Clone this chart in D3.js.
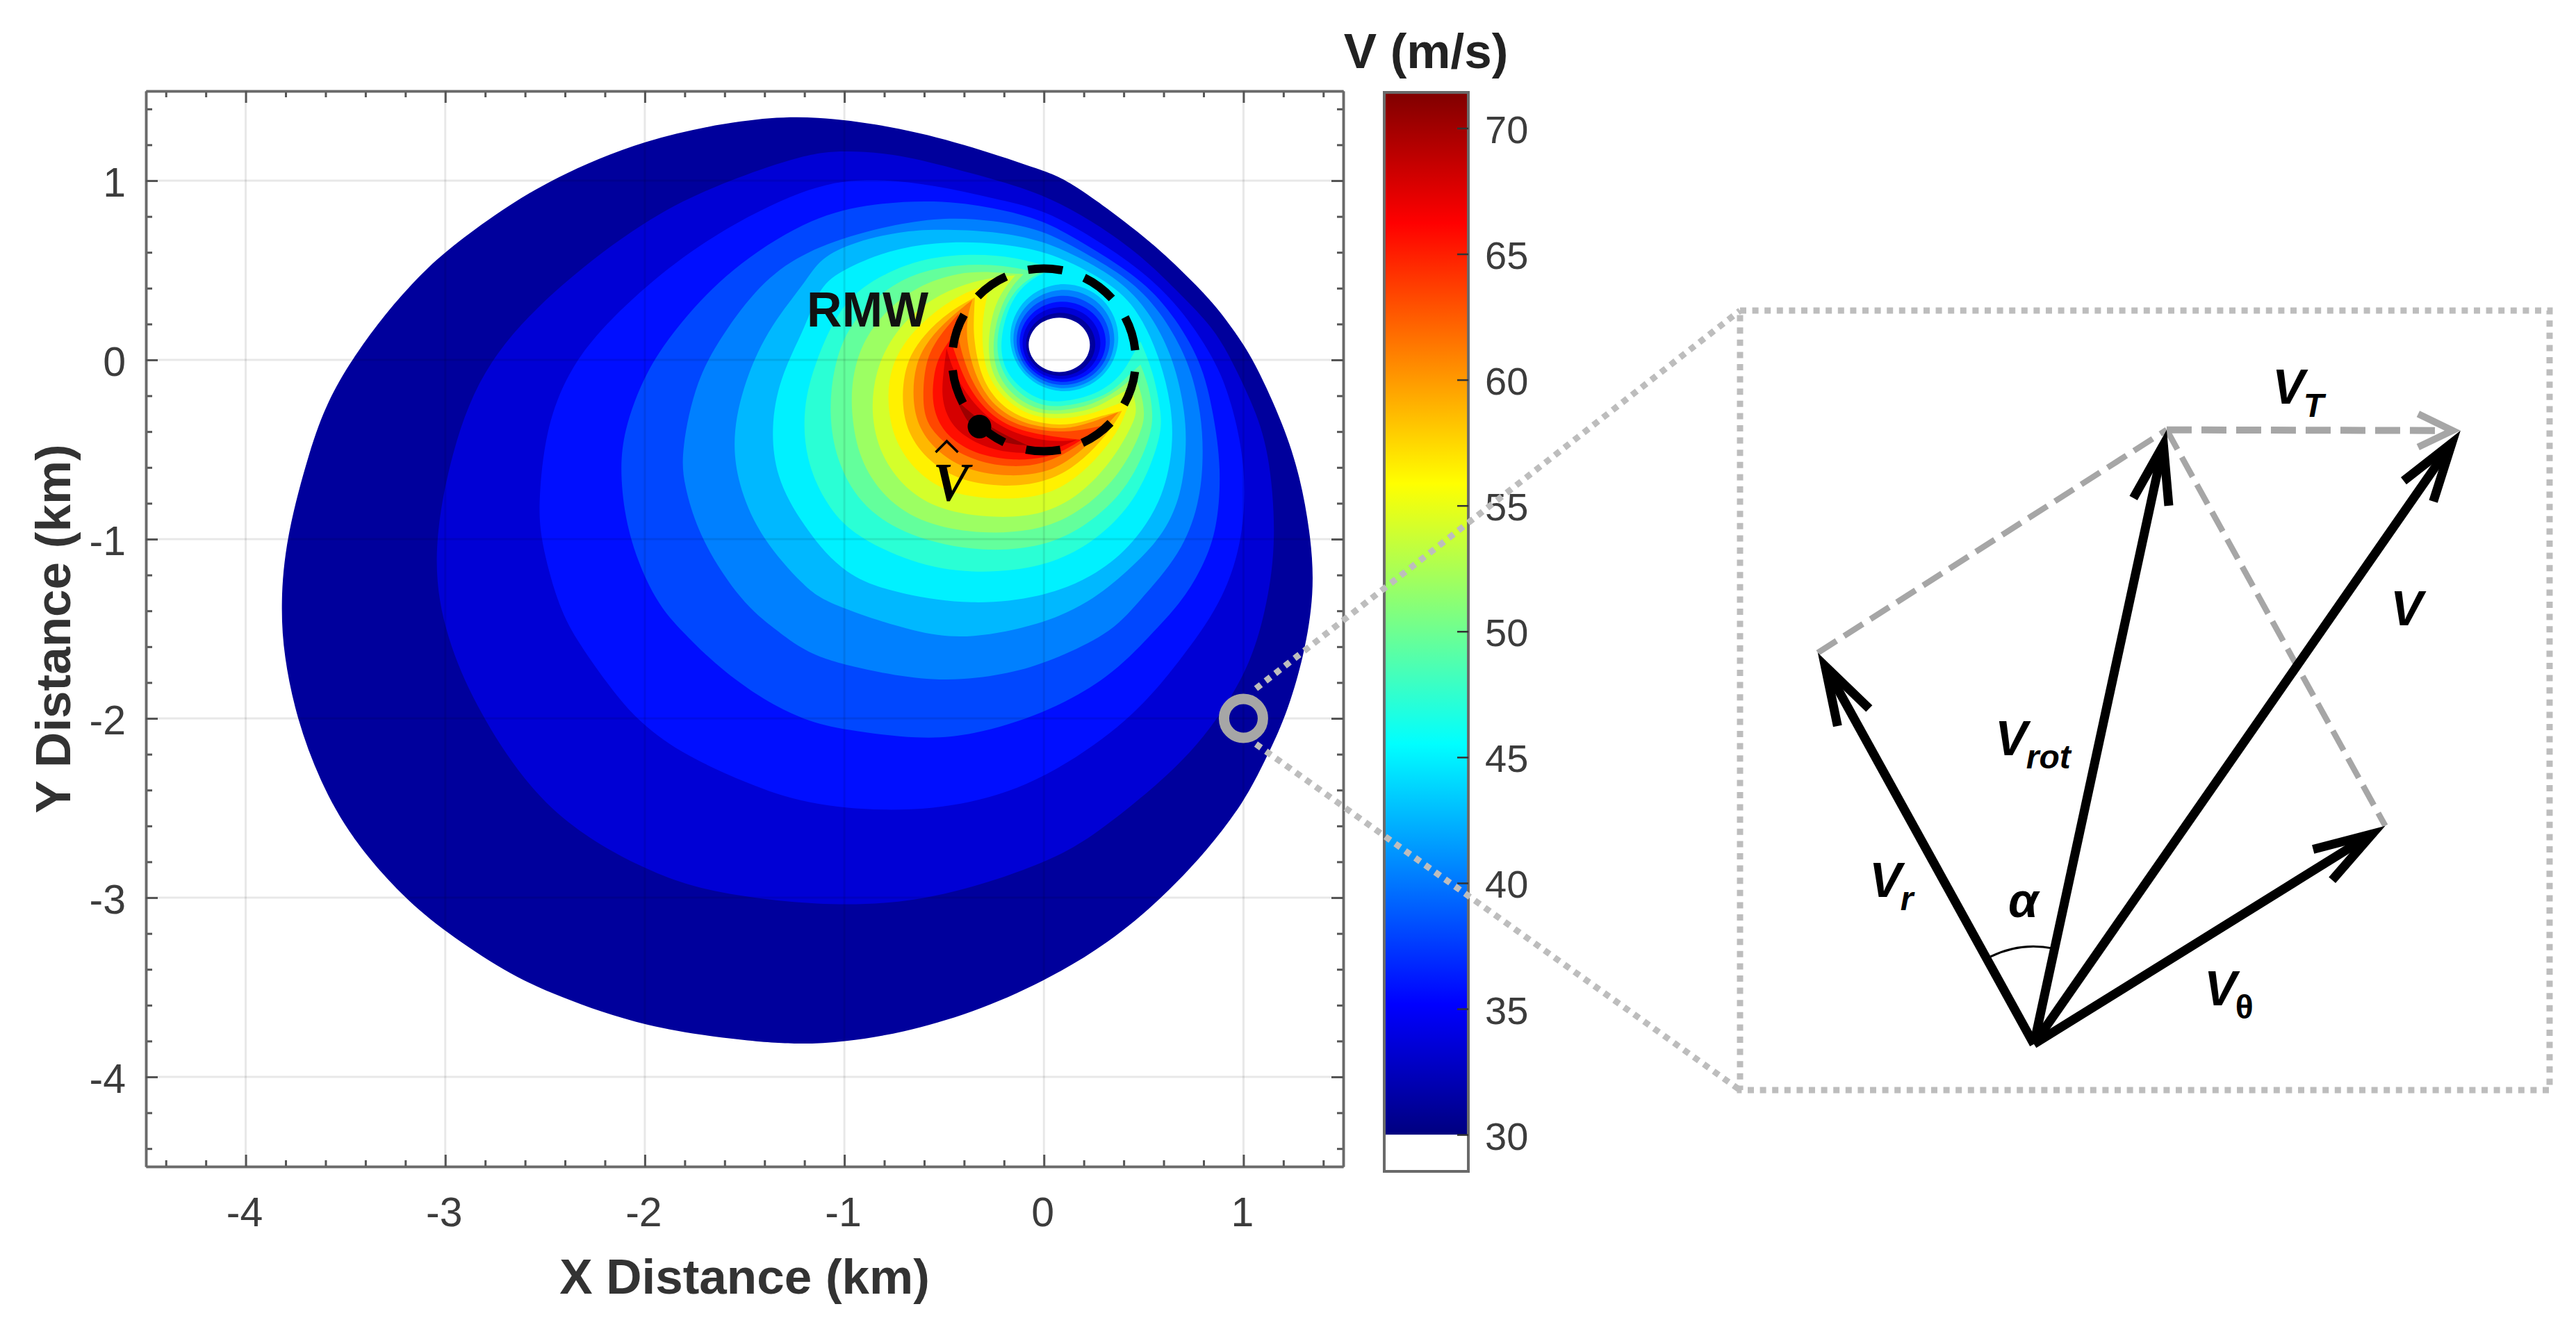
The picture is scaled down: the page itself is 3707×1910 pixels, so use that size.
<!DOCTYPE html>
<html>
<head>
<meta charset="utf-8">
<script src="https://d3js.org/d3.v7.min.js"></script>
<style>
  body { margin: 0; background: #fff; }
  text { font-family: "Liberation Sans", Arial, sans-serif; }
</style>
</head>
<body>
<svg id="chart" width="3707" height="1910"></svg>
<script>
// Tick values
var xTicks = [-4, -3, -2, -1, 0, 1];
var yTicks = [-4, -3, -2, -1, 0, 1];
var colorTicks = [30, 35, 40, 45, 50, 55, 60, 65, 70];

// Filled contour levels in m/s, the last one is the top of the colour bar
var levels = [30, 32.3, 34.6, 36.9, 39.2, 41.5, 43.8, 46.1, 48.4, 50.7, 53, 55.3, 57.6, 59.9, 62.2, 64.5, 66.8, 69.1, 71.4];

// Outer edge of the contours that go all the way round the eye, [x km, y km]
var outer1 = [[-1.15,1.365],[-.71,1.295],[-.36,1.19],[0,1.055],[.13,1],[.5,.695],[.68,.51],[.85,.32],[.975,.13],[1.06,-.02],[1.2,-.36],[1.285,-.65],[1.34,-1],[1.355,-1.3],[1.305,-1.65],[1.21,-2],[1.11,-2.23],[1.005,-2.465],[.82,-2.735],[.59,-3.005],[.33,-3.25],[0,-3.47],[-.36,-3.645],[-.71,-3.755],[-1,-3.805],[-1.23,-3.82],[-1.49,-3.8],[-2,-3.725],[-2.44,-3.55],[-2.7,-3.415],[-3,-3.19],[-3.205,-3.005],[-3.465,-2.68],[-3.63,-2.35],[-3.745,-2],[-3.81,-1.65],[-3.825,-1.36],[-3.8,-1],[-3.68,-.5],[-3.59,-.23],[-3.47,0],[-3.3,.26],[-3.125,.475],[-3,.605],[-2.76,.805],[-2.48,1.005],[-2,1.235],[-1.49,1.345]];
var outer2 = [[-1,1.17],[-.71,1.147],[-.36,1.04],[0,.93],[.295,.74],[.52,.55],[.68,.37],[.85,.18],[.94,0],[1.04,-.23],[1.13,-.5],[1.166,-1],[1.12,-1.36],[1.04,-1.69],[.875,-2],[.68,-2.27],[.24,-2.67],[0,-2.81],[-.5,-3],[-1,-3.06],[-1.66,-2.98],[-2,-2.85],[-2.49,-2.54],[-2.82,-2],[-3,-1.55],[-3.07,-1.1],[-2.97,-.5],[-2.8,0],[-2.42,.43],[-2,.78],[-1.66,.97],[-1.2,1.15]];
var outer3 = [[-.9,1.02],[-.54,.975],[-.25,.9],[0,.84],[.25,.68],[.48,.51],[.68,.3],[.86,0],[.94,-.23],[1.014,-.6],[1,-1],[.893,-1.358],[.676,-1.687],[.433,-2.015],[0,-2.344],[-.364,-2.48],[-.76,-2.524],[-1.196,-2.48],[-1.486,-2.364],[-1.832,-2.19],[-2.048,-2],[-2.178,-1.822],[-2.351,-1.551],[-2.438,-1.358],[-2.524,-1],[-2.533,-.787],[-2.498,-.4],[-2.403,-.11],[-2.265,.122],[-2,.412],[-1.659,.702],[-1.196,.963]];
var outer4 = [[-.9,.87],[-.54,.895],[-.25,.85],[0,.78],[.2,.65],[.45,.48],[.62,.3],[.79,0],[.85,-.3],[.89,-.6],[.87,-.95],[.79,-1.17],[.685,-1.358],[.537,-1.532],[.33,-1.774],[0,-1.977],[-.364,-2.097],[-.624,-2.118],[-1,-2.064],[-1.196,-2.015],[-1.434,-1.88],[-1.659,-1.687],[-1.806,-1.522],[-1.945,-1.358],[-2.083,-1],[-2.126,-.652],[-2.109,-.4],[-2,-.07],[-1.832,.2],[-1.573,.509],[-1.196,.78]];
var outer5 = [[-.9,.72],[-.54,.8],[-.25,.78],[0,.725],[.2,.6],[.425,.455],[.58,.28],[.727,0],[.79,-.3],[.8,-.55],[.78,-.8],[.69,-1.08],[.468,-1.358],[.33,-1.532],[0,-1.696],[-.19,-1.754],[-.537,-1.807],[-1,-1.706],[-1.196,-1.63],[-1.35,-1.5],[-1.512,-1.358],[-1.725,-1],[-1.806,-.69],[-1.818,-.516],[-1.746,-.11],[-1.59,.18],[-1.4,.45],[-1.196,.605]];
var outer6 = [[-.95,.659],[-.718,.717],[-.544,.73],[-.25,.72],[0,.665],[.2,.56],[.4,.43],[.54,.25],[.653,0],[.71,-.3],[.714,-.5],[.69,-.75],[.6,-.98],[.42,-1.18],[.225,-1.358],[-.017,-1.478],[-.364,-1.557],[-.624,-1.532],[-1.09,-1.358],[-1.196,-1.27],[-1.417,-1],[-1.538,-.69],[-1.564,-.4],[-1.486,-.07],[-1.365,.2],[-1.196,.431],[-1.124,.568]];
var outer7 = [[-1.124,.413],[-1.008,.504],[-.776,.614],[-.544,.656],[-.311,.659],[-.079,.627],[.107,.565],[.38,.4],[.5,.22],[.583,0],[.64,-.25],[.65,-.497],[.59,-.8],[.43,-1.05],[.243,-1.213],[-.017,-1.329],[-.364,-1.368],[-.71,-1.31],[-1,-1.21],[-1.209,-.923],[-1.348,-.652],[-1.369,-.342],[-1.313,-.07],[-1.196,.18]];

// Inner edge of the same contours, round the eye. inner1 is the white eye itself
var inner1 = [[.077,.252],[.197,.203],[.247,.084],[.197,-.035],[.077,-.084],[-.043,-.035],[-.093,.084],[-.043,.203]];
var inner2 = [[.084,.282],[.22,.225],[.276,.087],[.22,-.051],[.084,-.108],[-.052,-.051],[-.108,.087],[-.052,.225]];
var inner3 = [[.088,.316],[.241,.251],[.304,.094],[.241,-.063],[.088,-.128],[-.065,-.063],[-.128,.094],[-.065,.251]];
var inner4 = [[.094,.349],[.263,.276],[.333,.101],[.263,-.074],[.094,-.147],[-.075,-.074],[-.145,.101],[-.075,.276]];
var inner5 = [[.097,.385],[.28,.304],[.356,.109],[.28,-.086],[.097,-.167],[-.086,-.086],[-.162,.109],[-.086,.304]];
var inner6 = [[.1,.42],[.298,.331],[.38,.116],[.298,-.099],[.1,-.188],[-.098,-.099],[-.18,.116],[-.098,.331]];
var inner7 = [[.102,.455],[.314,.358],[.402,.124],[.314,-.11],[.102,-.207],[-.11,-.11],[-.198,.124],[-.11,.358]];

// Crescent contours above the saddle, left tip, round the outside, right tip, back along the inside
var crescent8 = [[.049,.51],[-.137,.575],[-.369,.594],[-.602,.568],[-.799,.484],[-1.008,.336],[-1.144,0],[-1.21,-.271],[-1.194,-.556],[-1.101,-.788],[-.973,-.969],[-.66,-1.137],[-.369,-1.195],[0,-1.163],[.269,-1.008],[.479,-.762],[.589,-.426],[.589,-.297],[.548,-.065],[.484,.103],[.438,.013],[.386,-.09],[.269,-.194],[.084,-.239],[-.021,-.226],[-.125,-.155],[-.207,-.039],[-.221,.116],[-.172,.323],[-.079,.446]];
var crescent9 = [[-.021,.484],[-.195,.53],[-.427,.536],[-.66,.484],[-.834,.362],[-.985,.181],[-1.055,-.039],[-1.078,-.297],[-1.043,-.556],[-.927,-.801],[-.718,-.969],[-.369,-1.072],[0,-1.053],[.246,-.904],[.432,-.698],[.537,-.426],[.548,-.297],[.525,-.142],[.484,-.026],[.42,-.09],[.351,-.168],[.246,-.226],[.084,-.265],[-.033,-.252],[-.149,-.168],[-.224,-.039],[-.242,.116],[-.195,.31],[-.114,.426]];
var crescent10 = [[-.102,.478],[-.253,.491],[-.427,.491],[-.636,.413],[-.799,.271],[-.915,.09],[-.962,-.103],[-.967,-.297],[-.927,-.556],[-.799,-.775],[-.602,-.917],[-.311,-.975],[0,-.95],[.211,-.827],[.386,-.633],[.49,-.401],[.508,-.297],[.484,-.168],[.455,-.09],[.374,-.168],[.246,-.252],[.084,-.287],[-.044,-.278],[-.172,-.187],[-.247,-.052],[-.259,.116],[-.218,.297],[-.16,.413]];
var crescent11 = [[-.143,.472],[-.311,.452],[-.485,.388],[-.636,.284],[-.764,.129],[-.846,-.065],[-.869,-.297],[-.822,-.53],[-.695,-.724],[-.52,-.84],[-.253,-.885],[0,-.866],[.188,-.749],[.339,-.568],[.432,-.388],[.467,-.297],[.455,-.22],[.438,-.155],[.351,-.207],[.246,-.278],[.084,-.307],[-.056,-.297],[-.184,-.207],[-.271,-.065],[-.282,.116],[-.253,.284],[-.207,.388]];
var crescent12 = [[-.271,.42],[-.404,.375],[-.555,.265],[-.683,.129],[-.77,-.039],[-.787,-.233],[-.753,-.452],[-.636,-.633],[-.474,-.749],[-.218,-.782],[0,-.762],[.153,-.672],[.293,-.517],[.386,-.375],[.432,-.22],[.339,-.258],[.235,-.304],[.084,-.333],[-.067,-.317],[-.195,-.226],[-.294,-.078],[-.311,.116],[-.305,.258]];
var crescent13 = [[-.346,.349],[-.474,.271],[-.602,.142],[-.695,-.013],[-.715,-.233],[-.683,-.413],[-.578,-.568],[-.416,-.678],[-.195,-.711],[0,-.685],[.142,-.607],[.258,-.491],[.351,-.362],[.391,-.284],[.293,-.31],[.188,-.349],[.084,-.368],[-.079,-.342],[-.218,-.258],[-.317,-.103],[-.352,.116],[-.352,.22]];
var crescent14 = [[-.358,.336],[-.474,.233],[-.578,.116],[-.648,-.026],[-.66,-.233],[-.625,-.388],[-.532,-.517],[-.381,-.62],[-.172,-.652],[0,-.633],[.118,-.568],[.223,-.472],[.316,-.362],[.374,-.291],[.269,-.336],[.177,-.368],[.084,-.388],[-.091,-.362],[-.236,-.278],[-.34,-.116],[-.393,.116],[-.381,.258]];
var crescent15 = [[-.427,.258],[-.52,.142],[-.59,.013],[-.607,-.168],[-.602,-.297],[-.567,-.388],[-.474,-.491],[-.334,-.568],[-.16,-.601],[0,-.581],[.13,-.51],[.235,-.426],[.31,-.362],[.211,-.388],[.084,-.407],[-.102,-.381],[-.253,-.297],[-.364,-.129],[-.427,.09],[-.433,.194]];
var crescent16 = [[-.468,.116],[-.532,.013],[-.555,-.103],[-.561,-.245],[-.52,-.375],[-.439,-.465],[-.311,-.536],[-.149,-.562],[0,-.549],[.107,-.504],[.188,-.446],[.084,-.433],[-.114,-.401],[-.265,-.317],[-.381,-.155],[-.439,.013]];
var crescent17 = [[-.488,.065],[-.503,-.065],[-.515,-.207],[-.48,-.336],[-.404,-.426],[-.276,-.497],[-.137,-.523],[0,-.517],[.072,-.491],[.165,-.446],[.037,-.459],[-.125,-.42],[-.276,-.336],[-.398,-.181],[-.462,-.039]];
var crescent18 = [[-.439,-.22],[-.381,-.362],[-.288,-.433],[-.16,-.472],[-.079,-.478],[-.172,-.433],[-.288,-.362],[-.381,-.284]];

// Where the right tip sits in each crescent list
var crescentTips = [19, 18, 18, 17, 14, 13, 13, 12, 10, 9, 4];

// Annotations on the map, km
var rmwCenter = [0, 0];
var rmwRadius = [0.46, 0.51];
var maxPoint = [-0.323, -0.372];
var zoomPoint = [1, -2];

// Vector diagram, percent of the zoom box
var vecOrigin = [36.3, 5.9];
var vecR = [9.6, 56.1];
var vecRot = [52.7, 84.7];
var vecTotal = [89, 84.6];
var vecTheta = [79.7, 33.9];

var svg = d3.select("#chart");

// Layout of the map, the colour bar and the zoom box
var plot = { left: 210, right: 1933, top: 131, bottom: 1679 };
var bar = { left: 1992, right: 2113, top: 133, bottom: 1686 };
var box = { left: 2504, right: 3669, top: 447, bottom: 1569 };

var x = d3.scaleLinear().domain([-4.5, 1.5]).range([plot.left, plot.right]);
var y = d3.scaleLinear().domain([-4.5, 1.5]).range([plot.bottom, plot.top]);
var colorY = d3.scaleLinear().domain([28.54, 71.42]).range([bar.bottom, bar.top]);
var boxX = d3.scaleLinear().domain([0, 100]).range([box.left, box.right]);
var boxY = d3.scaleLinear().domain([0, 100]).range([box.bottom, box.top]);

// Jet colour map
var jetStops = [0, 0.125, 0.375, 0.625, 0.875, 1];
var jetColors = ["#000080", "#0000ff", "#00ffff", "#ffff00", "#ff0000", "#800000"];
var jet = d3.scaleLinear()
  .domain(jetStops.map((d) => 30 + d * (71.4 - 30)))
  .range(jetColors)
  .interpolate(d3.interpolateRgb);

var closedLine = d3.line()
  .x((d) => x(d[0]))
  .y((d) => y(d[1]))
  .curve(d3.curveBasisClosed);

var openLine = d3.line()
  .x((d) => x(d[0]))
  .y((d) => y(d[1]))
  .curve(d3.curveBasis);

// A crescent is its outside arc and inside arc, each shut by the tip to tip chord.
// With the evenodd rule the part between the arcs is what gets filled, and the tips stay sharp
function crescentPath(ring, tip) {
  var outside = ring.slice(0, tip + 1);
  var inside = ring.slice(tip).concat([ring[0]]);
  return openLine(outside) + "Z" + openLine(inside) + "Z";
}

var bandPaths = [
  [outer1, inner1], [outer2, inner2], [outer3, inner3], [outer4, inner4],
  [outer5, inner5], [outer6, inner6], [outer7, inner7]
].map((rings) => rings.map((ring) => closedLine(ring)).join(""));

[crescent8, crescent9, crescent10, crescent11, crescent12, crescent13,
  crescent14, crescent15, crescent16, crescent17, crescent18].forEach(function (ring, i) {
  bandPaths.push(crescentPath(ring, crescentTips[i]));
});

// Filled contours, lowest level first so the higher ones paint on top
svg.append("g").selectAll("path")
  .data(bandPaths)
  .enter()
  .append("path")
  .attr("d", (d) => d)
  .attr("fill-rule", "evenodd")
  .attr("fill", (d, i) => jet((levels[i] + levels[i + 1]) / 2));

// Grid sits over the fill, very faint
var grid = svg.append("g").attr("stroke", "#000").attr("stroke-opacity", 0.09).attr("stroke-width", 3);
grid.selectAll(".gx").data(xTicks).enter().append("line")
  .attr("x1", (d) => x(d)).attr("x2", (d) => x(d))
  .attr("y1", plot.top).attr("y2", plot.bottom);
grid.selectAll(".gy").data(yTicks).enter().append("line")
  .attr("x1", plot.left).attr("x2", plot.right)
  .attr("y1", (d) => y(d)).attr("y2", (d) => y(d));

// Axes, major and minor ticks on all four sides
var minorTicks = d3.range(-22, 8).map((d) => d / 5).filter((d) => d % 1 !== 0);

function styleAxis(g) {
  g.selectAll("path").attr("stroke", "#6a6a6a").attr("stroke-width", 3.5);
  g.selectAll("line").attr("stroke", "#555").attr("stroke-width", 3);
  g.selectAll("text").attr("fill", "#3c3c3c").attr("font-size", 59);
}

var axisSides = [
  { make: d3.axisBottom, scale: x, ticks: xTicks, at: "translate(0," + plot.bottom + ")" },
  { make: d3.axisLeft, scale: y, ticks: yTicks, at: "translate(" + plot.left + ",0)" },
  { make: d3.axisTop, scale: x, ticks: xTicks, at: "translate(0," + plot.top + ")" },
  { make: d3.axisRight, scale: y, ticks: yTicks, at: "translate(" + plot.right + ",0)" }
];

axisSides.forEach(function (side, i) {
  var labelled = i < 2;
  svg.append("g")
    .attr("transform", side.at)
    .call(side.make(side.scale).tickValues(minorTicks).tickSize(-9).tickSizeOuter(0).tickFormat(""))
    .call(styleAxis);
  var g = svg.append("g")
    .attr("transform", side.at)
    .call(side.make(side.scale).tickValues(side.ticks).tickSize(-17).tickSizeOuter(0)
      .tickFormat(labelled ? (d) => String(d) : ""))
    .call(styleAxis);
  if (i === 0) g.selectAll("text").attr("y", 86).attr("dy", 0).attr("dx", -2);
  if (i === 1) g.selectAll("text").attr("x", -29).attr("y", 22).attr("dy", 0);
});

// Axis titles
svg.append("text")
  .attr("x", x(-1.5)).attr("y", 1862)
  .attr("text-anchor", "middle")
  .attr("font-size", 71).attr("font-weight", "bold").attr("fill", "#333")
  .text("X Distance (km)");

svg.append("text")
  .attr("transform", "translate(101," + y(-1.5) + ") rotate(-90)")
  .attr("text-anchor", "middle")
  .attr("font-size", 71).attr("font-weight", "bold").attr("fill", "#333")
  .text("Y Distance (km)");

// Colour bar
var gradient = svg.append("defs").append("linearGradient")
  .attr("id", "jetRamp")
  .attr("x1", 0).attr("y1", 1).attr("x2", 0).attr("y2", 0);
gradient.selectAll("stop")
  .data(jetStops)
  .enter()
  .append("stop")
  .attr("offset", (d) => d)
  .attr("stop-color", (d, i) => jetColors[i]);

svg.append("rect")
  .attr("x", bar.left).attr("width", bar.right - bar.left)
  .attr("y", colorY(71.4)).attr("height", colorY(30) - colorY(71.4))
  .attr("fill", "url(#jetRamp)");

svg.append("rect")
  .attr("x", bar.left).attr("width", bar.right - bar.left)
  .attr("y", bar.top).attr("height", bar.bottom - bar.top)
  .attr("fill", "none").attr("stroke", "#6a6a6a").attr("stroke-width", 4);

var colorAxis = svg.append("g")
  .attr("transform", "translate(" + bar.right + ",0)")
  .call(d3.axisRight(colorY).tickValues(colorTicks).tickSize(-16).tickSizeOuter(0).tickFormat((d) => String(d)));
colorAxis.select("path").remove();
colorAxis.selectAll("line").attr("stroke", "#333").attr("stroke-width", 2.5);
colorAxis.selectAll("text")
  .attr("x", 24).attr("y", 21).attr("dy", 0)
  .attr("fill", "#3c3c3c").attr("font-size", 56);

svg.append("text")
  .attr("x", 2052).attr("y", 98)
  .attr("text-anchor", "middle")
  .attr("font-size", 71).attr("font-weight", "bold").attr("fill", "#222")
  .text("V (m/s)");

// RMW circle, 10 dashes
svg.append("ellipse")
  .attr("cx", x(rmwCenter[0])).attr("cy", y(rmwCenter[1]))
  .attr("rx", x(rmwRadius[0]) - x(0)).attr("ry", y(0) - y(rmwRadius[1]))
  .attr("fill", "none").attr("stroke", "#000").attr("stroke-width", 12)
  .attr("stroke-dasharray", "50 33").attr("stroke-dashoffset", 66);

svg.append("text")
  .attr("x", x(-1.188)).attr("y", y(0.186))
  .attr("font-size", 70).attr("font-weight", "bold").attr("fill", "#111")
  .text("RMW");

// Point of maximum wind, V with a hat drawn above it
var maxX = x(maxPoint[0]);
var maxY = y(maxPoint[1]);

svg.append("circle")
  .attr("cx", maxX).attr("cy", maxY)
  .attr("r", 17).attr("fill", "#000");

svg.append("text")
  .attr("x", maxX - 67).attr("y", maxY + 106)
  .style("font-family", "'Liberation Serif'")
  .attr("font-size", 78).attr("font-style", "italic").attr("font-weight", "bold")
  .text("V");

svg.append("path")
  .attr("d", d3.line()([[maxX - 63, maxY + 37], [maxX - 47, maxY + 21], [maxX - 31, maxY + 37]]))
  .attr("fill", "none").attr("stroke", "#000").attr("stroke-width", 3.5);

// Grey marker and the dotted zoom lines going to the box
var dotted = svg.append("g")
  .attr("fill", "none").attr("stroke", "#bdbdbd").attr("stroke-width", 9)
  .attr("stroke-dasharray", "9 8.6");

dotted.append("line")
  .attr("x1", x(zoomPoint[0]) + 18).attr("y1", y(zoomPoint[1]) - 43)
  .attr("x2", box.left).attr("y2", box.top);
dotted.append("line")
  .attr("x1", x(zoomPoint[0]) + 18).attr("y1", y(zoomPoint[1]) + 37)
  .attr("x2", box.left).attr("y2", box.bottom);
dotted.append("rect")
  .attr("x", box.left).attr("y", box.top)
  .attr("width", box.right - box.left).attr("height", box.bottom - box.top);

svg.append("circle")
  .attr("cx", x(zoomPoint[0])).attr("cy", y(zoomPoint[1]))
  .attr("r", 28).attr("fill", "none")
  .attr("stroke", "#a6a6a6").attr("stroke-width", 15);

// Vector diagram
function toBox(p) {
  return [boxX(p[0]), boxY(p[1])];
}

var plainLine = d3.line();

function drawArrow(from, to, color, width, headLength, headAngle, dash) {
  var a = toBox(from);
  var b = toBox(to);
  var angle = Math.atan2(b[1] - a[1], b[0] - a[0]);
  // pull the apex back so the mitre of the head lands on the tip
  var back = width / 2 / Math.sin(headAngle);
  var apex = [b[0] - back * Math.cos(angle), b[1] - back * Math.sin(angle)];
  var barb = (sign) => [
    apex[0] - headLength * Math.cos(angle + sign * headAngle),
    apex[1] - headLength * Math.sin(angle + sign * headAngle)
  ];
  svg.append("path")
    .attr("d", plainLine([a, apex]))
    .attr("fill", "none").attr("stroke", color).attr("stroke-width", width)
    .attr("stroke-dasharray", dash);
  svg.append("path")
    .attr("d", plainLine([barb(1), apex, barb(-1)]))
    .attr("fill", "none").attr("stroke", color).attr("stroke-width", width)
    .attr("stroke-miterlimit", 12);
}

function drawDashed(from, to) {
  svg.append("path")
    .attr("d", plainLine([toBox(from), toBox(to)]))
    .attr("fill", "none").attr("stroke", "#a6a6a6").attr("stroke-width", 8.5)
    .attr("stroke-dasharray", "32 13");
}

drawDashed(vecR, vecRot);
drawDashed(vecRot, vecTheta);
drawArrow(vecRot, vecTotal, "#a6a6a6", 10, 55, 0.45, "36 14");

[vecR, vecRot, vecTotal, vecTheta].forEach(function (tip) {
  drawArrow(vecOrigin, tip, "#000", 13, 88, 0.3, null);
});

// Alpha arc between V_r and V_rot
var alphaArc = d3.arc()
  .innerRadius(139).outerRadius(142)
  .startAngle(-0.46).endAngle(0.2);
svg.append("path")
  .attr("transform", "translate(" + toBox(vecOrigin).join(",") + ")")
  .attr("d", alphaArc())
  .attr("fill", "#000");

// Labels of the vectors, main letter plus subscript
function vectorLabel(px, py, main, sub, subItalic) {
  var t = svg.append("text")
    .attr("x", px).attr("y", py)
    .attr("font-size", 70).attr("font-weight", "bold").attr("font-style", "italic")
    .attr("fill", "#000")
    .text(main);
  if (sub) {
    t.append("tspan")
      .attr("dy", 19).attr("dx", -2)
      .attr("font-size", 48)
      .attr("font-style", subItalic ? "italic" : "normal")
      .text(sub);
  }
}

vectorLabel(3270, 581, "V", "T", true);
vectorLabel(3440, 900, "V", null, true);
vectorLabel(2871, 1087, "V", "rot", true);
vectorLabel(2690, 1291, "V", "r", true);
vectorLabel(3172, 1447, "V", "θ", false);
vectorLabel(2890, 1320, "α", null, true);
</script>
</body>
</html>
